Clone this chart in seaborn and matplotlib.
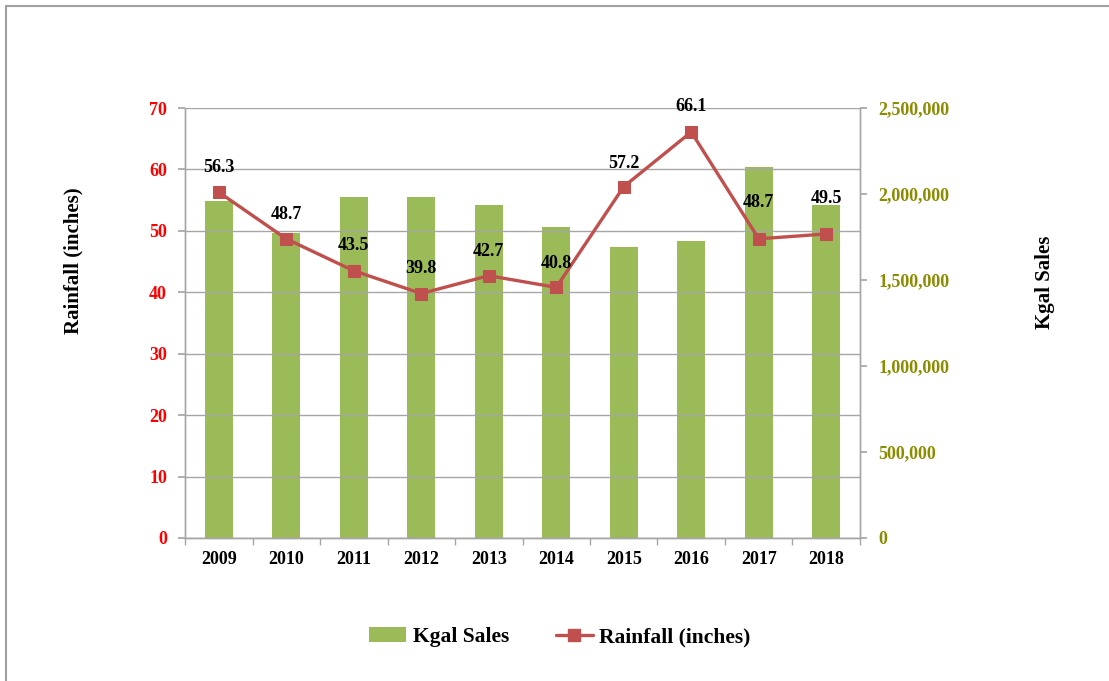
import matplotlib
matplotlib.use("Agg")
import matplotlib.pyplot as plt
import seaborn as sns
import pandas as pd
from matplotlib.ticker import FixedLocator, FuncFormatter
from matplotlib.lines import Line2D
from matplotlib.patches import Patch

years = ["2009", "2010", "2011", "2012", "2013", "2014", "2015", "2016", "2017", "2018"]
kgal_sales = [1959000, 1776000, 1984000, 1984000, 1936000, 1810000, 1694000, 1729000, 2159000, 1936000]
rainfall = [56.3, 48.7, 43.5, 39.8, 42.7, 40.8, 57.2, 66.1, 48.7, 49.5]
label_offsets = [25, 24, 25, 25, 24, 24, 23, 25, 36, 35]

sns.set_theme(style="white")
plt.rcParams["font.family"] = ["Liberation Serif", "DejaVu Serif"]
plt.rcParams["font.weight"] = "bold"
plt.rcParams["text.color"] = "black"

df = pd.DataFrame({"Year": years, "Kgal": kgal_sales, "Rain": rainfall})

fig = plt.figure(figsize=(11.09, 6.81), dpi=100)
ax = fig.add_axes([185 / 1109, 1 - 538 / 681, 675 / 1109, 430 / 681])
ax2 = ax.twinx()

bar_color = "#9BBB59"
line_color = "#C0504D"
grid_color = "#a6a6a6"

# bars on right axis
sns.barplot(data=df, x="Year", y="Kgal", ax=ax2, color=bar_color, width=0.42,
            saturation=1, edgecolor="none")
ax2.set_ylim(0, 2500000)
ax2.yaxis.set_major_locator(FixedLocator([0, 500000, 1000000, 1500000, 2000000, 2500000]))
ax2.yaxis.set_major_formatter(FuncFormatter(lambda v, p: f"{int(v):,}"))
ax2.set_ylabel("")
ax2.set_xlabel("")

# line on left axis
sns.lineplot(data=df, x="Year", y="Rain", ax=ax, color=line_color, linewidth=2.4,
             marker="s", markersize=9, markeredgecolor=line_color, sort=False)
ax.set_ylim(0, 70)
ax.set_xlim(-0.5, 9.5)
ax2.set_xlim(-0.5, 9.5)
ax.yaxis.set_major_locator(FixedLocator(list(range(0, 71, 10))))
ax.set_zorder(ax2.get_zorder() + 1)
ax.patch.set_visible(False)
ax.grid(True, axis="y", color=grid_color, linewidth=1.0)
ax.grid(False, axis="x")
ax2.grid(False)

for i, (v, off) in enumerate(zip(rainfall, label_offsets)):
    ax.annotate(f"{v:.1f}", (i, v), xytext=(0, off * 0.72), textcoords="offset points",
                ha="center", va="center", fontsize=13, fontweight="bold", color="black")

# x axis: ticks at category boundaries, labels centered
ax.set_xticks([i for i in range(len(years))])
ax.set_xticklabels(years, fontsize=13, fontweight="bold", color="black")
ax.tick_params(axis="x", which="major", length=0, pad=9)
ax.set_xticks([i - 0.5 for i in range(len(years) + 1)], minor=True)
ax.tick_params(axis="x", which="minor", length=5, color=grid_color, direction="out", bottom=True)
ax2.tick_params(axis="x", bottom=False, labelbottom=False)

ax.tick_params(axis="y", left=True, length=5, color=grid_color, direction="out",
               labelcolor="#FF0000", labelsize=13, pad=8)
for t in ax.get_yticklabels():
    t.set_fontweight("bold")
ax2.tick_params(axis="y", right=True, length=5, color=grid_color, direction="out",
                labelcolor="#8C8C00", labelsize=13, pad=8)
for t in ax2.get_yticklabels():
    t.set_fontweight("bold")

for a in (ax, ax2):
    a.spines["top"].set_visible(False)
    for s in ("left", "right", "bottom"):
        a.spines[s].set_color(grid_color)
        a.spines[s].set_linewidth(1.0)

ax.set_xlabel("")
ax.set_ylabel("Rainfall (inches)", fontsize=15, fontweight="bold", color="black")
ax.yaxis.set_label_coords(-0.150, 0.645)
ax2.set_ylabel("Kgal Sales", fontsize=15, fontweight="bold", color="black", rotation=90)
ax2.yaxis.set_label_coords(1.26, 0.595)

handles = [Patch(facecolor=bar_color, edgecolor="none"),
           Line2D([0], [0], color=line_color, linewidth=2.4, marker="s", markersize=9)]
leg = fig.legend(handles, ["Kgal Sales", "Rainfall (inches)"], loc="center",
                 bbox_to_anchor=(0.505, 1 - 637 / 681), ncol=2, frameon=False,
                 prop={"family": "Liberation Serif", "weight": "bold", "size": 15.5},
                 handlelength=1.7, handletextpad=0.3, columnspacing=2.2)
for t in leg.get_texts():
    t.set_color("black")

# frame border (left and top visible)
fig.add_artist(Line2D([6 / 1109, 6 / 1109], [0, 1 - 6 / 681], transform=fig.transFigure,
                      color="#a0a0a0", linewidth=1.5))
fig.add_artist(Line2D([6 / 1109, 1], [1 - 6 / 681, 1 - 6 / 681], transform=fig.transFigure,
                      color="#a0a0a0", linewidth=1.5))

fig.savefig("out.png", dpi=100)
